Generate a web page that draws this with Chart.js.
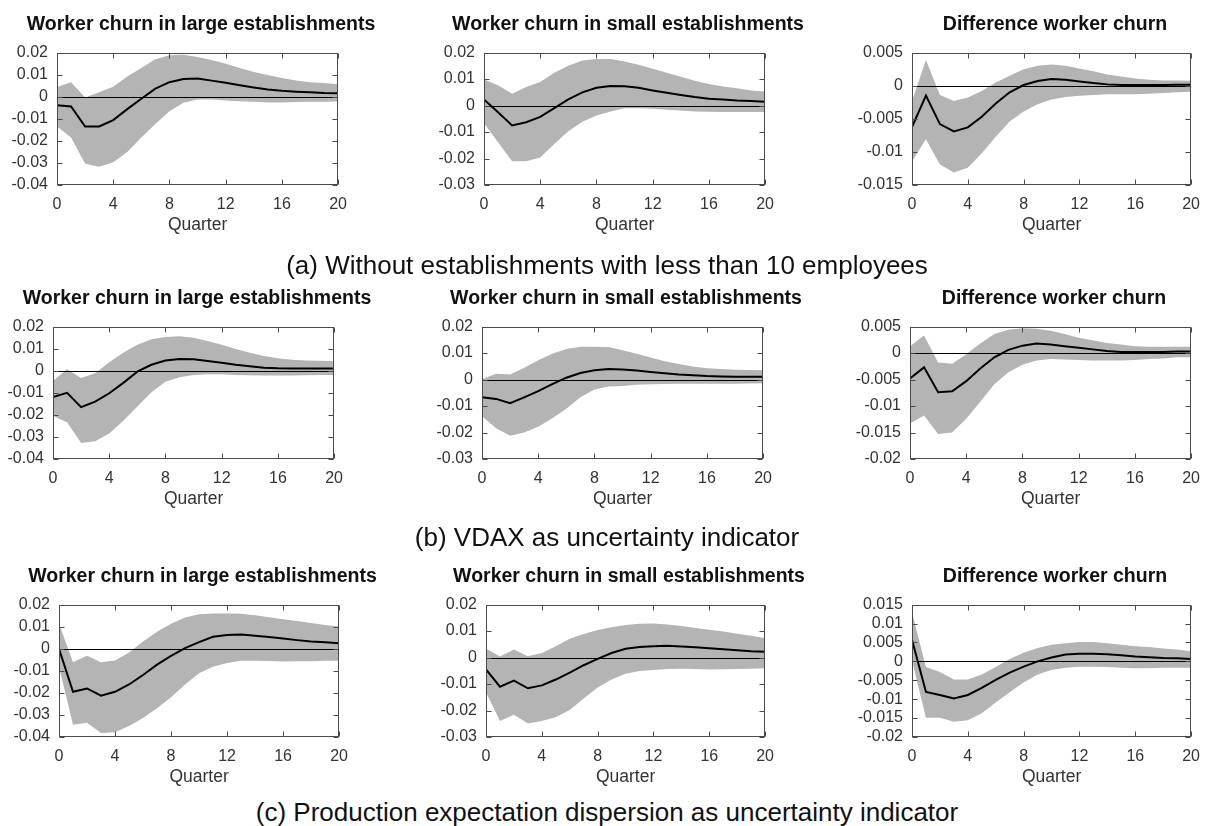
<!DOCTYPE html>
<html><head><meta charset="utf-8">
<script src="https://cdn.jsdelivr.net/npm/chart.js@4"></script>
<style>
html,body{margin:0;padding:0;background:#fff;width:1210px;height:826px;overflow:hidden;position:relative;font-family:"Liberation Sans",Arial,sans-serif;}
.title{position:absolute;font-weight:bold;font-size:19.5px;line-height:24px;white-space:nowrap;transform:translateX(-50%);color:#111;}
.caption{position:absolute;font-size:26px;line-height:32px;white-space:nowrap;transform:translateX(-50%);color:#111;}
canvas{position:absolute;}
</style></head><body>
<script>
// ---------- DATA ----------
const quarters = [0,1,2,3,4,5,6,7,8,9,10,11,12,13,14,15,16,17,18,19,20];
const xTicks = [0,4,8,12,16,20];
const ticksLarge = [-0.04,-0.03,-0.02,-0.01,0,0.01,0.02];
const ticksSmall = [-0.03,-0.02,-0.01,0,0.01,0.02];
const ticksDiffA = [-0.015,-0.01,-0.005,0,0.005];
const ticksDiffB = [-0.02,-0.015,-0.01,-0.005,0,0.005];
const ticksDiffC = [-0.02,-0.015,-0.01,-0.005,0,0.005,0.01,0.015];

const panelTitles = ['Worker churn in large establishments','Worker churn in small establishments','Difference worker churn'];
const captions = ['(a) Without establishments with less than 10 employees','(b) VDAX as uncertainty indicator','(c) Production expectation dispersion as uncertainty indicator'];
const xTitle = 'Quarter';

// (a)
const aLargeIrf = [-0.0039,-0.0044,-0.0135,-0.0135,-0.0106,-0.0056,-0.0009,0.0037,0.0066,0.0080,0.0083,0.0073,0.0063,0.0052,0.0042,0.0033,0.0027,0.0023,0.0020,0.0017,0.0016];
const aLargeUp  = [0.0044,0.0066,-0.0003,0.0020,0.0045,0.0092,0.0130,0.0170,0.0188,0.0190,0.0180,0.0166,0.0150,0.0130,0.0112,0.0098,0.0085,0.0073,0.0066,0.0062,0.0057];
const aLargeLo  = [-0.0135,-0.0185,-0.0304,-0.0317,-0.0297,-0.0250,-0.0185,-0.0123,-0.0066,-0.0027,-0.0013,-0.0013,-0.0017,-0.0020,-0.0023,-0.0026,-0.0026,-0.0024,-0.0023,-0.0023,-0.0022];
const aSmallIrf = [0.0023,-0.0025,-0.0075,-0.0063,-0.0043,-0.0010,0.0023,0.0050,0.0067,0.0074,0.0073,0.0067,0.0057,0.0048,0.0040,0.0032,0.0026,0.0023,0.0019,0.0017,0.0014];
const aSmallUp  = [0.0098,0.0077,0.0045,0.0070,0.0089,0.0124,0.0150,0.0170,0.0176,0.0176,0.0166,0.0154,0.0139,0.0124,0.0109,0.0094,0.0081,0.0072,0.0065,0.0057,0.0053];
const aSmallLo  = [-0.0067,-0.0139,-0.0210,-0.0210,-0.0196,-0.0145,-0.0097,-0.0061,-0.0038,-0.0022,-0.0010,-0.0010,-0.0012,-0.0016,-0.0019,-0.0022,-0.0023,-0.0024,-0.0024,-0.0024,-0.0024];
const aDiffIrf  = [-0.00625,-0.0015,-0.0058,-0.0069,-0.0063,-0.0047,-0.0027,-0.0010,0.0001,0.0007,0.0010,0.0009,0.00065,0.0004,0.0002,0.0001,0.0001,0.0001,0.0001,0.00015,0.00015];
const aDiffUp   = [-0.0023,0.0039,-0.0014,-0.0023,-0.0018,-0.0008,0.0005,0.0015,0.0025,0.0030,0.0032,0.0030,0.0026,0.0022,0.0017,0.0014,0.0011,0.0009,0.0008,0.0008,0.00075];
const aDiffLo   = [-0.0114,-0.0081,-0.0119,-0.0131,-0.0124,-0.0102,-0.0077,-0.0054,-0.0039,-0.0028,-0.0021,-0.0017,-0.0015,-0.0014,-0.0013,-0.0013,-0.0013,-0.0012,-0.0011,-0.0010,-0.0009];
// (b)
const bLargeIrf = [-0.0119,-0.0100,-0.0165,-0.0140,-0.0102,-0.0055,-0.0004,0.0027,0.0046,0.0053,0.0052,0.0044,0.0036,0.0027,0.0020,0.0014,0.0011,0.0010,0.0010,0.0010,0.0010];
const bLargeUp  = [-0.0047,0.0007,-0.0033,-0.0011,0.0039,0.0082,0.0118,0.0143,0.0153,0.0156,0.0149,0.0135,0.0118,0.0099,0.0082,0.0067,0.0057,0.0050,0.0046,0.0045,0.0043];
const bLargeLo  = [-0.0205,-0.0234,-0.0327,-0.0320,-0.0284,-0.0227,-0.0162,-0.0098,-0.0050,-0.0030,-0.0019,-0.0016,-0.0016,-0.0019,-0.0020,-0.0022,-0.0022,-0.0022,-0.0020,-0.0019,-0.0019];
const bSmallIrf = [-0.0067,-0.0073,-0.0089,-0.0067,-0.0044,-0.0017,0.0007,0.0025,0.0035,0.0040,0.0038,0.0034,0.0029,0.0024,0.0019,0.0016,0.0013,0.0012,0.0011,0.0011,0.0011];
const bSmallUp  = [0.0001,0.0022,0.0019,0.0045,0.0073,0.0097,0.0115,0.0124,0.0124,0.0123,0.0111,0.0097,0.0083,0.0069,0.0059,0.0049,0.0043,0.0040,0.0037,0.0036,0.0035];
const bSmallLo  = [-0.0139,-0.0184,-0.0212,-0.0200,-0.0178,-0.0146,-0.0110,-0.0067,-0.0038,-0.0026,-0.0024,-0.0020,-0.0018,-0.0017,-0.0016,-0.0016,-0.0016,-0.0016,-0.0016,-0.0015,-0.0014];
const bDiffIrf  = [-0.0048,-0.0027,-0.0074,-0.0072,-0.0053,-0.0029,-0.0008,0.0006,0.0014,0.0018,0.0016,0.0013,0.0010,0.0007,0.0004,0.0002,0.0002,0.0002,0.0002,0.0003,0.0003];
const bDiffUp   = [0.0013,0.0033,-0.0018,-0.0020,-0.0002,0.0018,0.0036,0.0044,0.0047,0.0046,0.0042,0.0036,0.0029,0.0024,0.0019,0.0016,0.0013,0.0012,0.0012,0.0012,0.0012];
const bDiffLo   = [-0.0133,-0.0118,-0.0153,-0.0150,-0.0124,-0.0092,-0.0059,-0.0036,-0.0022,-0.0014,-0.0011,-0.0012,-0.0013,-0.0014,-0.0014,-0.0014,-0.0013,-0.0011,-0.0010,-0.0008,-0.0008];
// (c)
const cLargeIrf = [0.0000,-0.0195,-0.0180,-0.0213,-0.0195,-0.0162,-0.0119,-0.0072,-0.0032,0.0003,0.0030,0.0054,0.0062,0.0064,0.0059,0.0053,0.0046,0.0039,0.0033,0.0029,0.0025];
const cLargeUp  = [0.0113,-0.0061,-0.0032,-0.0061,-0.0053,-0.0017,0.0033,0.0077,0.0113,0.0142,0.0156,0.0160,0.0160,0.0158,0.0152,0.0143,0.0134,0.0126,0.0117,0.0108,0.0101];
const cLargeLo  = [-0.0082,-0.0345,-0.0335,-0.0382,-0.0379,-0.0350,-0.0314,-0.0270,-0.0220,-0.0162,-0.0111,-0.0082,-0.0065,-0.0054,-0.0054,-0.0056,-0.0058,-0.0057,-0.0057,-0.0055,-0.0054];
const cSmallIrf = [-0.0045,-0.0110,-0.0087,-0.0116,-0.0105,-0.0083,-0.0057,-0.0029,-0.0005,0.0017,0.0033,0.0040,0.0043,0.0045,0.0042,0.0039,0.0035,0.0031,0.0028,0.0024,0.0022];
const cSmallUp  = [0.0034,0.0004,0.0030,0.0005,0.0017,0.0043,0.0071,0.0089,0.0104,0.0114,0.0123,0.0128,0.0129,0.0125,0.0119,0.0112,0.0105,0.0098,0.0090,0.0082,0.0073];
const cSmallLo  = [-0.0131,-0.0240,-0.0216,-0.0249,-0.0240,-0.0225,-0.0198,-0.0155,-0.0113,-0.0083,-0.0061,-0.0051,-0.0047,-0.0043,-0.0042,-0.0043,-0.0045,-0.0044,-0.0043,-0.0042,-0.0040];
const cDiffIrf  = [0.0057,-0.0081,-0.0089,-0.0098,-0.0089,-0.0070,-0.0049,-0.0030,-0.0014,0.0000,0.0010,0.0018,0.0020,0.0020,0.0019,0.0016,0.0013,0.0011,0.0009,0.0008,0.0006];
const cDiffUp   = [0.0129,-0.0015,-0.0028,-0.0048,-0.0048,-0.0035,-0.0015,0.0006,0.0023,0.0035,0.0044,0.0048,0.0051,0.0051,0.0048,0.0044,0.0040,0.0038,0.0034,0.0031,0.0027];
const cDiffLo   = [0.0002,-0.0149,-0.0149,-0.0160,-0.0156,-0.0137,-0.0109,-0.0082,-0.0056,-0.0035,-0.0023,-0.0017,-0.0014,-0.0014,-0.0015,-0.0017,-0.0018,-0.0018,-0.0017,-0.0017,-0.0017];

// ---------- LAYOUT ----------
const FONT = '"Liberation Sans", Arial, sans-serif';
const BAND = '#b4b4b4';
const AXW = 60, AXH = 51, PADT = 12, PADR = 12;

const panels = [
  {irf:aLargeIrf, up:aLargeUp, lo:aLargeLo, ticks:ticksLarge, t:0, rect:[57,46,345,185]},
  {irf:aSmallIrf, up:aSmallUp, lo:aSmallLo, ticks:ticksSmall, t:1, rect:[484,46,772,185]},
  {irf:aDiffIrf,  up:aDiffUp,  lo:aDiffLo,  ticks:ticksDiffA, t:2, rect:[912,46,1198,185]},
  {irf:bLargeIrf, up:bLargeUp, lo:bLargeLo, ticks:ticksLarge, t:0, rect:[53,320,341,459]},
  {irf:bSmallIrf, up:bSmallUp, lo:bSmallLo, ticks:ticksSmall, t:1, rect:[482,320,770,459]},
  {irf:bDiffIrf,  up:bDiffUp,  lo:bDiffLo,  ticks:ticksDiffB, t:2, rect:[910,320,1198,459]},
  {irf:cLargeIrf, up:cLargeUp, lo:cLargeLo, ticks:ticksLarge, t:0, rect:[59,598,346,737]},
  {irf:cSmallIrf, up:cSmallUp, lo:cSmallLo, ticks:ticksSmall, t:1, rect:[486,598,772,737]},
  {irf:cDiffIrf,  up:cDiffUp,  lo:cDiffLo,  ticks:ticksDiffC, t:2, rect:[912,598,1198,737]}
];
const titleY = [23, 297, 575];
const captionY = [265, 537, 812];

const pts = arr => quarters.map((q,i)=>({x:q, y:arr[i]}));
const fmt = v => { const n = +(+v).toFixed(4); return n === 0 ? '0' : String(n); };

const boxPlugin = {
  id:'box',
  beforeDatasetDraw(chart, args){
    if (args.index !== 0) return;
    const {ctx, chartArea:a, scales:{y}} = chart;
    const y0 = Math.round(y.getPixelForValue(0)) + 0.5;
    ctx.save(); ctx.strokeStyle = '#000'; ctx.lineWidth = 1;
    ctx.beginPath(); ctx.moveTo(a.left, y0); ctx.lineTo(a.right, y0); ctx.stroke(); ctx.restore();
  },
  afterDatasetsDraw(chart){
    const {ctx, chartArea:a, scales:{x, y}} = chart;
    const L = Math.round(a.left)+0.5, R = Math.round(a.right)-0.5, T = Math.round(a.top)+0.5, B = Math.round(a.bottom)-0.5;
    ctx.save(); ctx.strokeStyle = '#4a4a4a'; ctx.lineWidth = 1;
    ctx.strokeRect(L, T, R-L, B-T);
    ctx.beginPath();
    x.ticks.forEach(t => { const px = Math.round(x.getPixelForValue(t.value))+0.5; ctx.moveTo(px,B); ctx.lineTo(px,B-5); ctx.moveTo(px,T); ctx.lineTo(px,T+5); });
    y.ticks.forEach(t => { const py = Math.round(y.getPixelForValue(t.value))+0.5; ctx.moveTo(L,py); ctx.lineTo(L+5,py); ctx.moveTo(R,py); ctx.lineTo(R-5,py); });
    ctx.stroke(); ctx.restore();
  }
};

function addText(cls, text, cx, cy, lh){
  const d = document.createElement('div');
  d.className = cls; d.textContent = text;
  d.style.left = cx + 'px'; d.style.top = (cy - lh/2) + 'px';
  document.body.appendChild(d);
}

panels.forEach((p, idx) => {
  const [l,t,r,b] = p.rect;
  const cv = document.createElement('canvas');
  cv.width = (r-l) + AXW + PADR; cv.height = (b-t) + PADT + AXH;
  cv.style.left = (l - AXW) + 'px'; cv.style.top = (t - PADT) + 'px';
  document.body.appendChild(cv);
  const row = Math.floor(idx/3);
  addText('title', panelTitles[p.t], (l+r)/2, titleY[row], 24);
  new Chart(cv, {
    type:'line',
    data:{datasets:[
      {data:pts(p.irf), borderColor:'#000', borderWidth:2, pointRadius:0, tension:0, fill:false},
      {data:pts(p.up), borderWidth:0, borderColor:'rgba(0,0,0,0)', pointRadius:0, tension:0, fill:'+1', backgroundColor:BAND},
      {data:pts(p.lo), borderWidth:0, borderColor:'rgba(0,0,0,0)', pointRadius:0, tension:0, fill:false}
    ]},
    options:{
      responsive:false, animation:false, events:[], devicePixelRatio:1,
      layout:{padding:{left:0, top:PADT, right:PADR, bottom:0}},
      plugins:{legend:{display:false}, tooltip:{enabled:false}},
      scales:{
        x:{type:'linear', min:0, max:20,
           grid:{display:false, drawTicks:false}, border:{display:false},
           ticks:{font:{size:16, family:FONT}, color:'#333', padding:10, maxRotation:0, autoSkip:false},
           afterBuildTicks: s => { s.ticks = xTicks.map(v => ({value:v})); },
           afterFit: s => { s.height = AXH; },
           title:{display:true, text:xTitle, font:{size:17.5, family:FONT}, color:'#333', padding:0}},
        y:{type:'linear', min:p.ticks[0], max:p.ticks[p.ticks.length-1],
           grid:{display:false, drawTicks:false}, border:{display:false},
           ticks:{font:{size:16, family:FONT}, color:'#333', padding:9, autoSkip:false, callback: v => fmt(v)},
           afterBuildTicks: s => { s.ticks = p.ticks.map(v => ({value:v})); },
           afterFit: s => { s.width = AXW; }}
      }
    },
    plugins:[boxPlugin]
  });
});
captions.forEach((c,i) => addText('caption', c, 607, captionY[i], 32));
</script>
</body></html>
